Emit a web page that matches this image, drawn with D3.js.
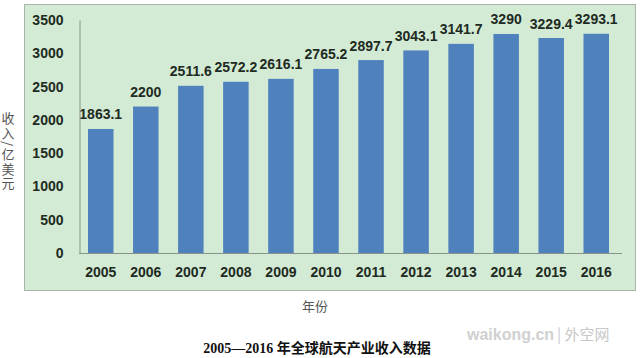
<!DOCTYPE html>
<html><head><meta charset="utf-8">
<script src="https://cdn.jsdelivr.net/npm/d3@7"></script>
<style>html,body{margin:0;padding:0;background:#fff;}svg{display:block;}</style>
</head><body>
<svg id="chart" width="640" height="358"></svg>
<script>
const years = ["2005","2006","2007","2008","2009","2010","2011","2012","2013","2014","2015","2016"];
const revenue = [1863.1, 2200, 2511.6, 2572.2, 2616.1, 2765.2, 2897.7, 3043.1, 3141.7, 3290, 3229.4, 3293.1];
const yTicks = [0, 500, 1000, 1500, 2000, 2500, 3000, 3500];
const yTitle = "收入/亿美元";
const xTitle = "年份";
const chartTitle = "2005—2016 年全球航天产业收入数据";

const svg = d3.select("#chart");
const numFont = "'Liberation Sans', Arial, sans-serif";

// panel
svg.append("rect").attr("x", 24.5).attr("y", 4.5).attr("width", 611).attr("height", 286)
  .attr("fill", "#d3ebd5").attr("stroke", "#a9b5aa").attr("stroke-width", 1);

const x = d3.scaleBand().domain(years).range([79, 618]).paddingInner(0.434).paddingOuter(0.2);
const y = d3.scaleLinear().domain([0, 3500]).range([253, 20]);

// bars
svg.append("g").selectAll("rect").data(revenue).join("rect")
  .attr("x", (d, i) => x(years[i]))
  .attr("y", d => y(d))
  .attr("width", x.bandwidth())
  .attr("height", d => y(0) - y(d))
  .attr("fill", "#4f81bd");

// value labels
svg.append("g").selectAll("text").data(revenue).join("text")
  .attr("x", (d, i) => x(years[i]) + x.bandwidth() / 2)
  .attr("y", d => y(d) - 9.5)
  .attr("text-anchor", "middle")
  .attr("font-family", numFont).attr("font-weight", "bold").attr("font-size", 14)
  .attr("fill", "#1e2a22")
  .text(d => String(d));

// y axis
const yAxis = svg.append("g").attr("transform", "translate(79.5,0)")
  .call(d3.axisLeft(y).tickValues(yTicks).tickSize(0).tickPadding(16).tickFormat(d3.format("d")));
yAxis.select(".domain").attr("stroke", "#8a938b");
yAxis.selectAll("text").attr("font-family", numFont).attr("font-weight", "bold")
  .attr("font-size", 14).attr("fill", "#1e2a22");

// x axis
const xAxis = svg.append("g").attr("transform", "translate(0,253.5)")
  .call(d3.axisBottom(x).tickSize(0).tickPadding(14));
xAxis.select(".domain").remove();
svg.append("line").attr("x1", 79).attr("x2", 622).attr("y1", 253.5).attr("y2", 253.5)
  .attr("stroke", "#8a938b");
xAxis.selectAll("text").attr("font-family", numFont).attr("font-weight", "bold")
  .attr("font-size", 14).attr("fill", "#1e2a22");

// y title (vertical)
svg.append("text")
  .attr("x", 8).attr("y", 112)
  .attr("font-family", "'Noto Sans CJK SC', sans-serif").attr("font-size", 13)
  .attr("fill", "#555")
  .style("writing-mode", "vertical-rl")
  .style("letter-spacing", "1.5px")
  .text(yTitle);

// x title
svg.append("text").attr("x", 315).attr("y", 311).attr("text-anchor", "middle")
  .attr("font-family", "'Noto Sans CJK SC', sans-serif").attr("font-size", 13)
  .attr("fill", "#555").text(xTitle);

// chart title
svg.append("text").attr("x", 317).attr("y", 353).attr("text-anchor", "middle")
  .attr("font-family", "'Liberation Serif', 'Noto Sans CJK SC', serif").attr("font-weight", "bold")
  .attr("font-size", 14).attr("fill", "#111").text(chartTitle);

// watermark
svg.append("text").attr("x", 467).attr("y", 340)
  .attr("font-family", numFont).attr("font-weight", "bold").attr("font-size", 16)
  .attr("fill", "#d0d0d0").text("waikong.cn");
svg.append("text").attr("x", 557).attr("y", 340)
  .attr("font-family", "'Noto Sans CJK SC', sans-serif").attr("font-size", 15)
  .attr("fill", "#c8c8c8").text("| 外空网");
</script>
</body></html>
